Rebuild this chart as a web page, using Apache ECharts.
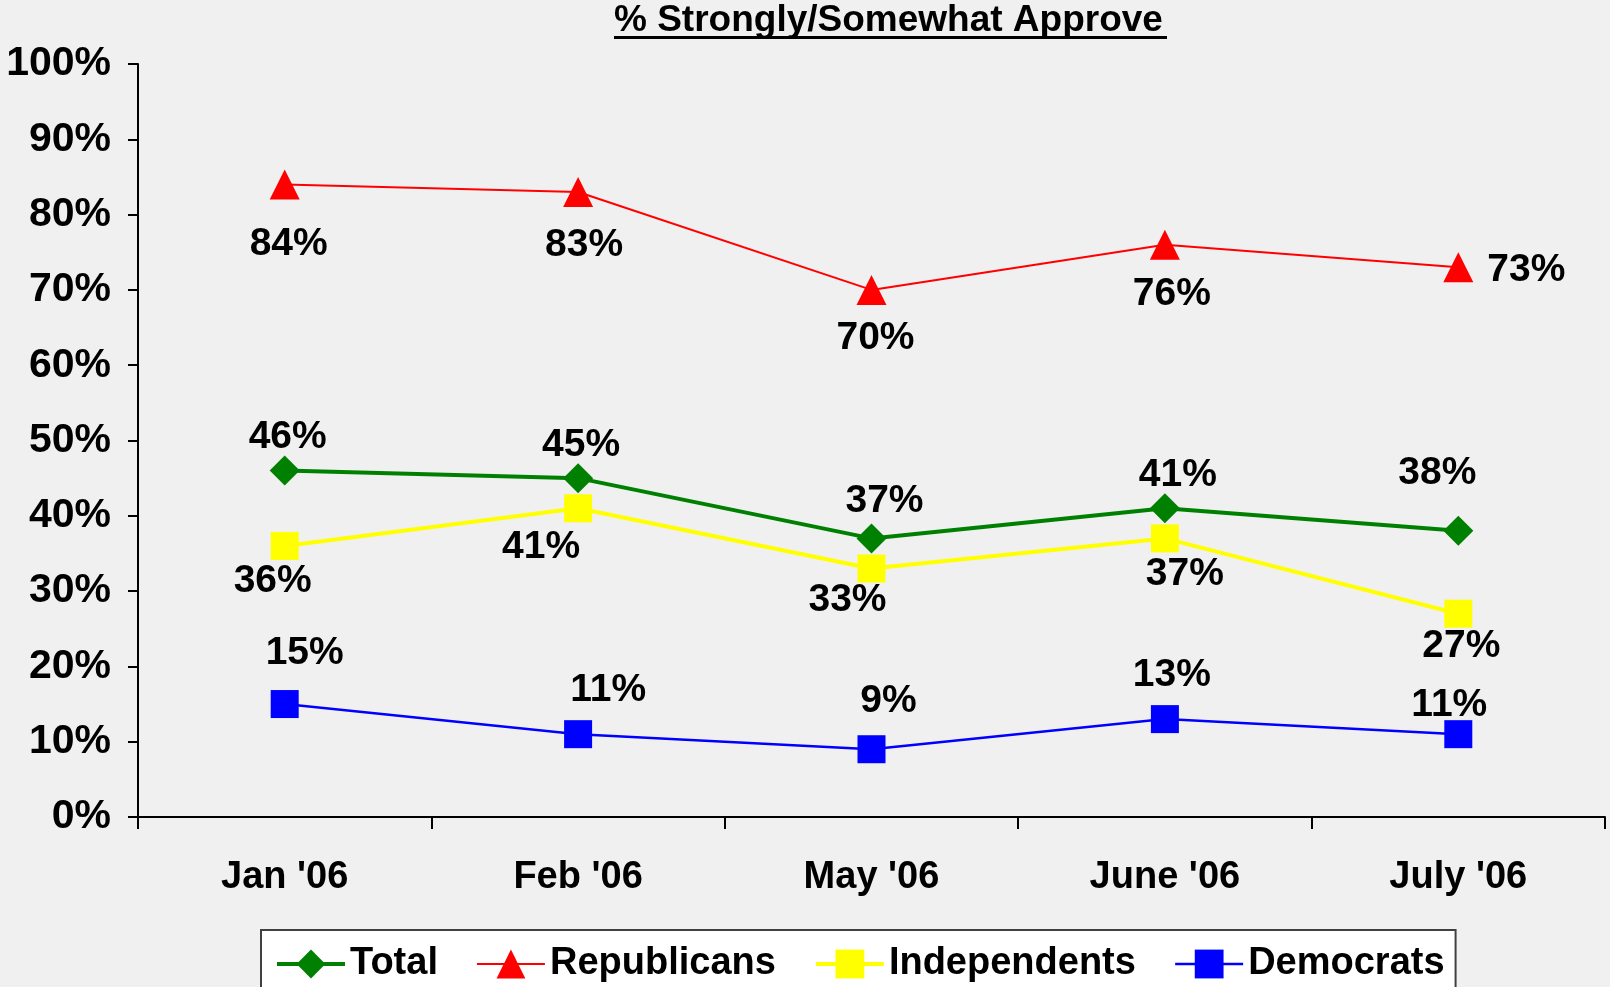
<!DOCTYPE html>
<html>
<head>
<meta charset="utf-8">
<script src="https://cdn.jsdelivr.net/npm/echarts@6/dist/echarts.min.js"></script>
<style>
html,body{margin:0;padding:0;background:#F0F0F0;}
#chart{width:1610px;height:987px;}
</style>
</head>
<body>
<div id="chart"></div>
<script>
const categories = ["Jan '06", "Feb '06", "May '06", "June '06", "July '06"];
const yTicks = [0, 10, 20, 30, 40, 50, 60, 70, 80, 90, 100];
const totalValues = [46, 45, 37, 41, 38];
const republicanValues = [84, 83, 70, 76, 73];
const independentValues = [36, 41, 33, 37, 27];
const democratValues = [15, 11, 9, 13, 11];

// label placement (layout only, px offsets from point)
const totalOffsets = [[3,-33],[3,-33],[13,-37],[13,-33],[-21,-58]];
const republicanOffsets = [[4,60],[6,53],[4,48],[7,50],[68,3]];
const independentOffsets = [[-12,35],[-37,39],[-24,32],[20,36],[3,33]];
const democratOffsets = [[20,-51],[30,-44],[17,-48],[7,-44],[-9,-29]];

const FONT = '"Liberation Sans", Arial, sans-serif';

function build(values, offsets) {
  return values.map((v, i) => ({
    value: v,
    label: { offset: offsets[i] }
  }));
}

const labelStyle = {
  show: true,
  position: 'inside',
  formatter: p => p.value + '%',
  color: '#000',
  fontFamily: FONT,
  fontWeight: 'bold',
  fontSize: 39
};

const chart = echarts.init(document.getElementById('chart'));
chart.setOption({
  backgroundColor: '#F0F0F0',
  animation: false,
  title: {
    text: '% Strongly/Somewhat Approve',
    left: 614,
    top: 2,
    padding: 0,
    textStyle: { fontFamily: FONT, fontWeight: 'bold', fontSize: 37, color: '#000', lineHeight: 37 }
  },
  graphic: [{
    type: 'rect',
    shape: { x: 614, y: 36, width: 553, height: 3 },
    style: { fill: '#000' }
  }],
  legend: {
    left: 261,
    top: 930,
    padding: [15, 11, 14, 14],
    itemGap: 38,
    itemWidth: 68,
    itemHeight: 36,
    backgroundColor: '#FFFFFF',
    borderColor: '#404040',
    borderWidth: 2,
    borderRadius: 0,
    textStyle: { fontFamily: FONT, fontWeight: 'bold', fontSize: 38, color: '#000' },
    data: [
      { name: 'Total', lineStyle: { width: 4 } },
      { name: 'Republicans', lineStyle: { width: 2 } },
      { name: 'Independents', lineStyle: { width: 4 } },
      { name: 'Democrats', lineStyle: { width: 2.5 } }
    ]
  },
  grid: { left: 138, right: 5, top: 64, bottom: 170, containLabel: false },
  xAxis: {
    type: 'category',
    data: categories,
    boundaryGap: true,
    axisLine: { lineStyle: { color: '#000', width: 2 } },
    axisTick: { show: true, interval: 0, length: 12, lineStyle: { color: '#000', width: 2 } },
    axisLabel: { margin: 42, color: '#000', fontFamily: FONT, fontWeight: 'bold', fontSize: 38 }
  },
  yAxis: {
    type: 'value',
    min: yTicks[0],
    max: yTicks[yTicks.length - 1],
    interval: 10,
    splitLine: { show: false },
    axisLine: { show: true, lineStyle: { color: '#000', width: 2 } },
    axisTick: { show: true, length: 10, lineStyle: { color: '#000', width: 2 } },
    axisLabel: { margin: 27, color: '#000', fontFamily: FONT, fontWeight: 'bold', fontSize: 41, formatter: v => v + '%' }
  },
  series: [
    {
      name: 'Total', type: 'line', data: build(totalValues, totalOffsets),
      symbol: 'diamond', symbolSize: 30,
      itemStyle: { color: '#008000' },
      lineStyle: { color: '#008000', width: 4 },
      label: labelStyle
    },
    {
      name: 'Republicans', type: 'line', data: build(republicanValues, republicanOffsets),
      symbol: 'triangle', symbolSize: 30,
      itemStyle: { color: '#FF0000' },
      lineStyle: { color: '#FF0000', width: 2 },
      label: labelStyle
    },
    {
      name: 'Independents', type: 'line', data: build(independentValues, independentOffsets),
      symbol: 'rect', symbolSize: 28,
      itemStyle: { color: '#FFFF00' },
      lineStyle: { color: '#FFFF00', width: 4 },
      label: labelStyle
    },
    {
      name: 'Democrats', type: 'line', data: build(democratValues, democratOffsets),
      symbol: 'rect', symbolSize: 28,
      itemStyle: { color: '#0000FF' },
      lineStyle: { color: '#0000FF', width: 2.5 },
      label: labelStyle
    }
  ]
});
</script>
</body>
</html>
